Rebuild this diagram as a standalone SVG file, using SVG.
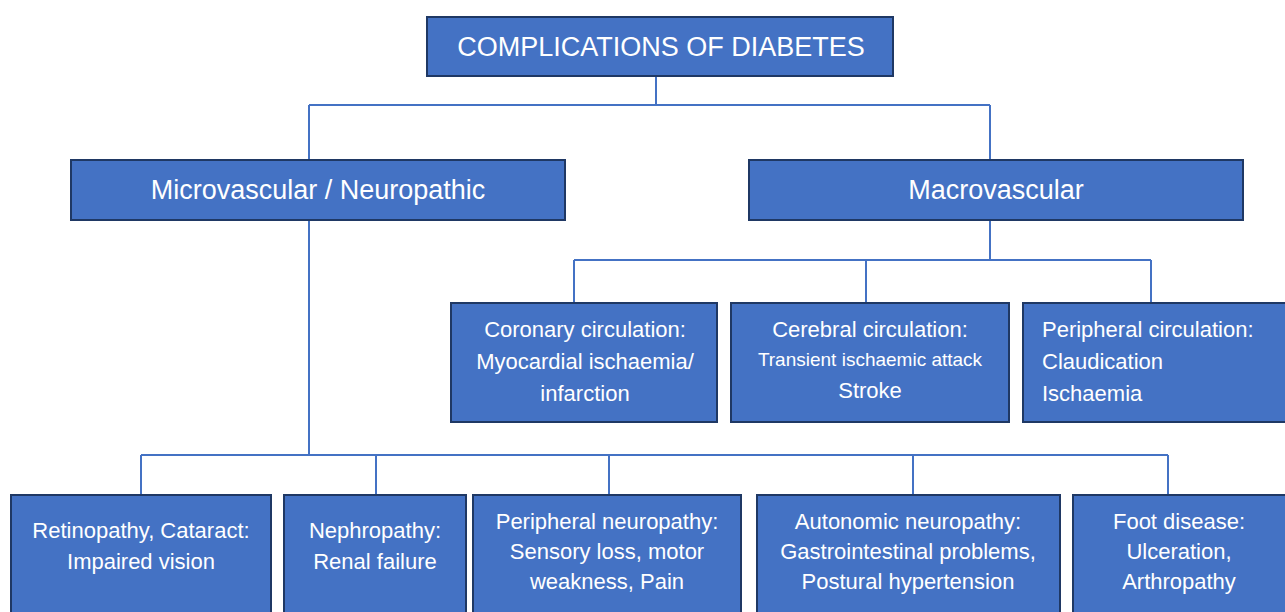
<svg xmlns="http://www.w3.org/2000/svg" width="1285" height="612" viewBox="0 0 1285 612">
<style>
.box{fill:#4472C4;stroke:#1F3864;stroke-width:2}
.t{font-family:"Liberation Sans",Arial,sans-serif;fill:#FFFFFF;text-anchor:middle}
.l{text-anchor:start}
.big{font-size:27px}
.mid{font-size:22px}
.sm{font-size:19px}
.c{fill:none;stroke:#4472C4;stroke-width:2}
</style>
<rect width="1285" height="612" fill="#FFFFFF"/>
<g id="connectors">
<path class="c" d="M656,76V105M309,105H990M309,105V160M990,105V160"/>
<path class="c" d="M990,220V260M574,260H1151M574,260V303M866,260V303M1151,260V303"/>
<path class="c" d="M309,220V455M141,455H1168M141,455V495M376,455V495M609,455V495M913,455V495M1168,455V495"/>
</g>
<g id="root"><rect class="box" x="427" y="17" width="466" height="59"/><text class="t big" x="661" y="56">COMPLICATIONS OF DIABETES</text></g>
<g id="micro"><rect class="box" x="71" y="160" width="494" height="60"/><text class="t big" x="318" y="199">Microvascular / Neuropathic</text></g>
<g id="macro"><rect class="box" x="749" y="160" width="494" height="60"/><text class="t big" x="996" y="199">Macrovascular</text></g>
<g id="coronary"><rect class="box" x="451" y="303" width="266" height="119"/><text class="t mid" x="585" y="337">Coronary circulation:</text><text class="t mid" x="585" y="369">Myocardial ischaemia/</text><text class="t mid" x="585" y="401">infarction</text></g>
<g id="cerebral"><rect class="box" x="731" y="303" width="278" height="119"/><text class="t mid" x="870" y="337">Cerebral circulation:</text><text class="t sm" x="870" y="366">Transient ischaemic attack</text><text class="t mid" x="870" y="398">Stroke</text></g>
<g id="peripheral-circ"><rect class="box" x="1023" y="303" width="270" height="119"/><text class="t mid l" x="1042" y="337">Peripheral circulation:</text><text class="t mid l" x="1042" y="369">Claudication</text><text class="t mid l" x="1042" y="401">Ischaemia</text></g>
<g id="retinopathy"><rect class="box" x="11" y="495" width="260" height="125"/><text class="t mid" x="141" y="538">Retinopathy, Cataract:</text><text class="t mid" x="141" y="569">Impaired vision</text></g>
<g id="nephropathy"><rect class="box" x="284" y="495" width="182" height="125"/><text class="t mid" x="375" y="538">Nephropathy:</text><text class="t mid" x="375" y="569">Renal failure</text></g>
<g id="peripheral-neuro"><rect class="box" x="473" y="495" width="268" height="125"/><text class="t mid" x="607" y="529">Peripheral neuropathy:</text><text class="t mid" x="607" y="559">Sensory loss, motor</text><text class="t mid" x="607" y="589">weakness, Pain</text></g>
<g id="autonomic"><rect class="box" x="757" y="495" width="303" height="125"/><text class="t mid" x="908" y="529">Autonomic neuropathy:</text><text class="t mid" x="908" y="559">Gastrointestinal problems,</text><text class="t mid" x="908" y="589">Postural hypertension</text></g>
<g id="foot"><rect class="box" x="1073" y="495" width="220" height="125"/><text class="t mid" x="1179" y="529">Foot disease:</text><text class="t mid" x="1179" y="559">Ulceration,</text><text class="t mid" x="1179" y="589">Arthropathy</text></g>
</svg>
